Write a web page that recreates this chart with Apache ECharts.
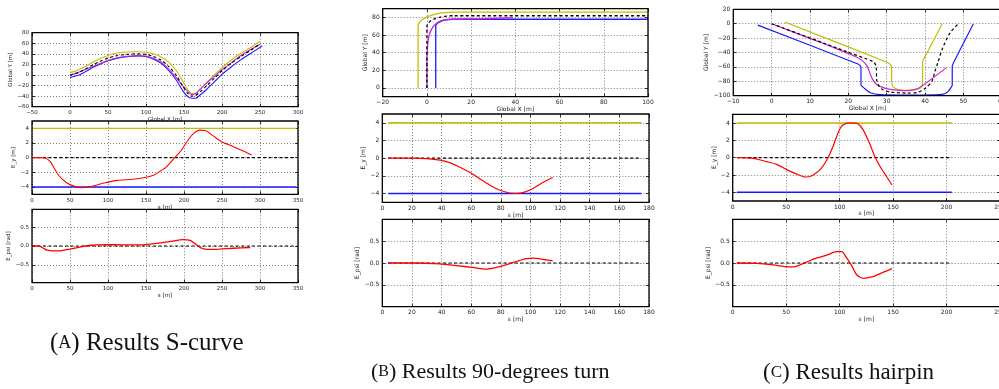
<!DOCTYPE html>
<html><head><meta charset="utf-8">
<script src="https://cdn.jsdelivr.net/npm/echarts@6/dist/echarts.min.js"></script>
<style>html,body{margin:0;padding:0;background:#fff;overflow:hidden;width:999px;height:389px}#c{width:1010px;height:389px}</style>
</head><body><div id="c"></div><script>
// ---------- Panel A : S-curve ----------
const aCenter = [[0,0],[10,4],[20,11],[30,19],[40,26],[50,32],[60,36],[75,39],[90,40],[100,39],[110,35],[120,28],[130,16],[140,-1],[148,-20],[155,-35],[160,-40],[165,-39],[172,-31],[180,-20],[190,-6],[200,8],[212,22],[225,35],[238,47],[250,59]];
const aYellow = [[0,4.5],[10,9],[20,16],[30,24],[40,31],[50,37],[60,41],[75,43.5],[90,44],[100,43],[110,40],[120,34],[130,24],[140,8],[148,-11],[155,-28],[160,-35],[165,-35],[172,-26],[180,-14],[190,0],[200,14],[212,28],[225,41],[238,52],[250,64]];
const aBlue = [[0,-4.5],[10,-1],[20,6],[30,14],[40,21],[50,27],[60,31],[75,34.5],[90,36],[100,35],[110,30],[120,22],[130,8],[140,-10],[148,-29],[155,-41],[160,-44],[165,-44],[172,-37],[180,-27],[190,-13],[200,1],[212,15],[225,29],[238,41],[253,55]];
const aVehicle = [[0,0],[10,4],[20,10.5],[30,16],[40,21.9],[50,27.4],[60,31.8],[75,35.3],[90,36.6],[100,35.9],[110,31.6],[120,24],[130,11],[140,-5.4],[148,-20],[155,-31.2],[160,-37],[165,-35.6],[172,-25.8],[180,-14.9],[190,-2.6],[200,10],[210,20.6],[225,37],[250,58]];
const aEyS = [0,10,17,24,35,46,57,66,77,90,98,112,133,147,160,168,177,186,195,204,212,221,228,238,249,265,278,289];
const aEy  = [0,0,-0.05,-0.55,-2.4,-3.45,-3.95,-4.1,-3.95,-3.6,-3.4,-3.1,-2.95,-2.75,-2.4,-1.9,-1.25,-0.2,0.8,2.2,3.25,3.75,3.7,3.0,2.2,1.5,0.9,0.35];
const aEpsiS = [0,9,15,20,28,39,50,63,77,98,120,142,164,182,199,208,214,221,230,247,265,287];
const aEpsi  = [0,0,-0.06,-0.11,-0.13,-0.12,-0.08,-0.03,0.02,0.035,0.03,0.03,0.07,0.12,0.17,0.15,0.07,-0.04,-0.09,-0.08,-0.06,-0.04];
const aRoadS = [0,348];
// ---------- Panel B : 90-degrees turn ----------
const bCenter = [[0,0],[0,70],[0.41,73.1],[1.6,76],[3.5,78.5],[6,80.4],[8.9,81.6],[12,82],[100,82]];
const bYellow = [[-4,0],[-4,70],[-3.45,74.1],[-1.86,78],[0.69,81.3],[4,83.9],[7.86,85.5],[12,86],[100,86]];
const bBlue = [[4,0],[4,70],[4.27,72.1],[5.07,74],[6.34,75.7],[8,76.9],[9.93,77.7],[12,78],[100,78]];
const bVehicle = [[0,0],[0,30],[0.1,40],[0.3,48],[0.7,56],[1.3,62],[2.2,67],[3.3,71],[5,74.5],[7,76.8],[10,78],[15,78.2],[25,78.6],[32,79.2],[39,79.8]];
const bEyS = [4,21,30,39,46,52,59,66,73,79,86,91,96,102,109,115];
const bEy  = [0,0,-0.05,-0.23,-0.53,-1.0,-1.6,-2.35,-3.1,-3.6,-3.95,-4.0,-3.85,-3.4,-2.7,-2.2];
const bEpsiS = [4,21,39,50,61,70,77,84,91,97,102,109,115];
const bEpsi  = [0,0,-0.02,-0.06,-0.1,-0.14,-0.1,-0.04,0.04,0.1,0.11,0.08,0.05];
const bRoadS = [4,175];
// ---------- Panel C : hairpin ----------
const cCenter = [[0,0],[19.6,-38.9],[26.5,-52.8],[27.1,-57],[27.3,-62],[27.4,-78],[27.8,-85],[28.8,-91],[30.9,-94.9],[35.2,-96.3],[38,-95.5],[40,-90],[41.8,-80],[42.6,-66],[43.3,-55],[44.5,-35],[46.5,-13],[48.7,0]];
const cYellow = [[3.4,2.3],[30.4,-54.2],[31.1,-57.5],[31.3,-60.5],[31.3,-78],[31.5,-86],[32.3,-90],[33.5,-91.8],[35.2,-92.6],[37.2,-92],[38.7,-89.5],[39.3,-85],[39.4,-52],[40,-46],[44.5,0]];
const cBlue = [[-3.6,-2],[22.5,-56],[23.2,-59],[23.3,-62],[23.3,-85],[23.9,-88.4],[25.7,-95.8],[28.3,-98.6],[33.5,-99],[39.5,-99],[44.8,-97.7],[46,-94.4],[46.9,-87.5],[47.1,-85],[47.1,-59.7],[47.8,-50.5],[52.6,-0.5]];
const cVehicle = [[0,0],[10,-20.3],[18,-37],[22,-46],[24,-53],[25,-60],[25.6,-68],[26.3,-77],[27.4,-84.5],[29.5,-89.5],[32,-92],[34.5,-93],[36.5,-92.2],[38.3,-89.7],[45.6,-61]];
const cEyS = [4,19,32,41,50,60,68,74,82,88,94,99,103,110,117,122,128,133,138,144,149];
const cEy  = [0,-0.08,-0.46,-0.77,-1.35,-1.9,-2.23,-2.08,-1.35,-0.27,1.35,3.0,3.77,4.0,3.9,3.2,1.65,0.1,-1.05,-2.2,-3.15];
const cEpsiS = [4,22,38,50,57,63,69,78,88,97,102,106,111,116,122,130,141,149];
const cEpsi  = [0,-0.01,-0.045,-0.085,-0.09,-0.04,0.02,0.11,0.18,0.26,0.26,0.14,-0.05,-0.27,-0.35,-0.32,-0.21,-0.13];
const cRoadS = [4,205];
// ---------- tick values ----------
const aGXTicks = [-50,0,50,100,150,200,250,300];
const aGYTicks = [-60,-40,-20,0,20,40,60,80];
const aSTicks = [0,50,100,150,200,250,300,350];
const bGXTicks = [-20,0,20,40,60,80,100];
const bGYTicks = [0,20,40,60,80];
const bSTicks = [0,20,40,60,80,100,120,140,160,180];
const cGXTicks = [-10,0,10,20,30,40,50,60];
const cGYTicks = [-100,-80,-60,-40,-20,0,20];
const cSTicks = [0,50,100,150,200,250];
const eyTicks = [-4,-2,0,2,4];
const epsiTicks = [-0.5,0,0.5];
const roadBound = [4,-4,0];
// ---------- captions ----------
const captions = [['A','Results S-curve'],['B','Results 90-degrees turn'],['C','Results hairpin']];

const YEL='#bfbf00', BLU='#1a1aff', MAG='#d020d0', RED='#ff0000', BLK='#000';
const pairs = (xs, ys) => xs.map((x,i)=>[x, ys[i]]);
const flat = (xs, v) => xs.map(x=>[x, v]);
const minus = v => (v<0 ? '\u2212' + Math.abs(v) : String(v));
const minus1 = v => (v<0 ? '\u2212' + Math.abs(v).toFixed(1) : v.toFixed(1));

const ln = (data, color, w, dash) => ({data, color, w: w||1.2, dash});
const panels = [
 {g:[32,32.7,266,74], fs:5.5,
  x:{min:-50,max:300,t:aGXTicks,name:'Global X [m]',gap:7,f:minus},
  y:{min:-60,max:80,t:aGYTicks,name:'Global Y [m]',gap:15,f:minus},
  s:[ln(aYellow,YEL,1.1),ln(aBlue,BLU,1.1),ln(aVehicle,MAG,1.1),ln(aCenter,BLK,1.1,[3,2.5])]},
 {g:[32,121,266,73.3], fs:5.5,
  x:{min:0,max:350,t:aSTicks,name:'s [m]',gap:7,f:minus},
  y:{min:-5,max:5,t:eyTicks,name:'E_y [m]',gap:11,f:minus},
  s:[ln(flat(aRoadS,roadBound[0]),YEL,1.4),ln(flat(aRoadS,roadBound[1]),BLU,1.4),ln(flat(aRoadS,roadBound[2]),BLK,1.1,[3,2.5]),ln(pairs(aEyS,aEy),RED,1.1)]},
 {g:[32,209.3,266,73.4], fs:5.5,
  x:{min:0,max:350,t:aSTicks,name:'s [m]',gap:7,f:minus},
  y:{min:-0.97,max:0.97,t:epsiTicks,name:'E_psi [rad]',gap:16,f:minus1},
  s:[ln(flat(aRoadS,roadBound[2]),BLK,1.1,[3,2.5]),ln(pairs(aEpsiS,aEpsi),RED,1.3)]},
 {g:[382.7,8.7,265.3,88], fs:6,
  x:{min:-20,max:100,t:bGXTicks,name:'Global X [m]',gap:8,f:minus},
  y:{min:-10,max:90,t:bGYTicks,name:'Global Y [m]',gap:11,f:minus},
  s:[ln(bYellow,YEL,1.3),ln(bBlue,BLU,1.3),ln(bVehicle,MAG,1.3),ln(bCenter,BLK,1.3,[3,2.5])]},
 {g:[382.3,114,266.7,88.3], fs:6,
  x:{min:0,max:180,t:bSTicks,name:'s [m]',gap:8,f:minus},
  y:{min:-5,max:5,t:eyTicks,name:'E_y [m]',gap:11,f:minus},
  s:[ln(flat(bRoadS,roadBound[0]),YEL,1.5),ln(flat(bRoadS,roadBound[1]),BLU,1.5),ln(flat(bRoadS,roadBound[2]),BLK,1.2,[3,2.5]),ln(pairs(bEyS,bEy),RED,1.2)]},
 {g:[382.3,219.3,266.7,87.4], fs:6,
  x:{min:0,max:180,t:bSTicks,name:'s [m]',gap:8,f:minus},
  y:{min:-1,max:1,t:epsiTicks,name:'E_psi [rad]',gap:16,f:minus1},
  s:[ln(flat(bRoadS,roadBound[2]),BLK,1.2,[3,2.5]),ln(pairs(bEpsiS,bEpsi),RED,1.3)]},
 {g:[733.3,9.3,268.4,86.4], fs:6,
  x:{min:-10,max:60,t:cGXTicks,name:'Global X [m]',gap:8,f:minus},
  y:{min:-100,max:20,t:cGYTicks,name:'Global Y [m]',gap:22,f:minus},
  s:[ln(cYellow,YEL,1.2),ln(cBlue,BLU,1.2),ln(cVehicle,MAG,1.2),ln(cCenter,BLK,1.2,[3,2.5])]},
 {g:[732.7,114.3,267.3,86.7], fs:6,
  x:{min:0,max:250,t:cSTicks,name:'s [m]',gap:8,f:minus},
  y:{min:-5,max:5,t:eyTicks,name:'E_y [m]',gap:12,f:minus},
  s:[ln(flat(cRoadS,roadBound[0]),YEL,1.5),ln(flat(cRoadS,roadBound[1]),BLU,1.5),ln(flat(cRoadS,roadBound[2]),BLK,1.2,[3,2.5]),ln(pairs(cEyS,cEy),RED,1.2)]},
 {g:[732.7,219.3,267.3,87.4], fs:6,
  x:{min:0,max:250,t:cSTicks,name:'s [m]',gap:8,f:minus},
  y:{min:-1,max:1,t:epsiTicks,name:'E_psi [rad]',gap:19,f:minus1},
  s:[ln(flat(cRoadS,roadBound[2]),BLK,1.2,[3,2.5]),ln(pairs(cEpsiS,cEpsi),RED,1.3)]}
];

const grid=[], xAxis=[], yAxis=[], series=[];
const FONT='DejaVu Sans';
const split = {show:true, lineStyle:{color:'#444', width:0.7, type:[1,2]}};
panels.forEach((p,i)=>{
  grid.push({left:p.g[0], top:p.g[1], width:p.g[2], height:p.g[3], show:true, borderColor:'#000', borderWidth:1.3, backgroundColor:'rgba(0,0,0,0)', z:5});
  const tick = t => ({show:true, inside:true, length:3, customValues:t, lineStyle:{color:'#000', width:0.8}});
  const noLine = {show:false, onZero:false};
  const xi = xAxis.length;
  xAxis.push({type:'value', gridIndex:i, min:p.x.min, max:p.x.max, position:'bottom',
    axisLine:noLine, axisTick:tick(p.x.t),
    axisLabel:{customValues:p.x.t, formatter:p.x.f, fontSize:p.fs, color:'#222', fontFamily:FONT, margin:3},
    splitLine:split, name:p.x.name, nameLocation:'middle', nameGap:p.x.gap,
    nameTextStyle:{fontSize:p.fs, color:'#222', fontFamily:FONT}});
  xAxis.push({type:'value', gridIndex:i, min:p.x.min, max:p.x.max, position:'top',
    axisLine:noLine, axisTick:tick(p.x.t), axisLabel:{show:false}, splitLine:{show:false}});
  const yi = yAxis.length;
  yAxis.push({type:'value', gridIndex:i, min:p.y.min, max:p.y.max, position:'left',
    axisLine:noLine, axisTick:tick(p.y.t),
    axisLabel:{customValues:p.y.t, formatter:p.y.f, fontSize:p.fs, color:'#222', fontFamily:FONT, margin:3},
    splitLine:split, name:p.y.name, nameLocation:'middle', nameGap:p.y.gap, nameRotate:90,
    nameTextStyle:{fontSize:p.fs, color:'#222', fontFamily:FONT}});
  yAxis.push({type:'value', gridIndex:i, min:p.y.min, max:p.y.max, position:'right',
    axisLine:noLine, axisTick:tick(p.y.t), axisLabel:{show:false}, splitLine:{show:false}});
  p.s.forEach(s=>{
    series.push({type:'line', xAxisIndex:xi, yAxisIndex:yi, data:s.data, showSymbol:false, symbol:'none',
      smooth:0.25, clip:true, animation:false,
      lineStyle:{color:s.color, width:s.w, type:s.dash||'solid'}});
  });
});

const cap = (x,y,fs,c) => ({type:'text', left:x, top:y,
  style:{text:'{p|(}{s|'+c[0]+'}{p|) '+c[1]+'}', rich:{p:{fontSize:fs,fontFamily:'Liberation Serif',fill:'#111'}, s:{fontSize:Math.round(fs*0.72),fontFamily:'Liberation Serif',fill:'#111'}}}});

const chart = echarts.init(document.getElementById('c'), null, {renderer:'canvas'});
chart.setOption({animation:false, backgroundColor:'#fff', grid, xAxis, yAxis, series,
  graphic:[cap(50,331,25,captions[0]), cap(371,361,22,captions[1]), cap(763,361,23,captions[2])]});
</script></body></html>
